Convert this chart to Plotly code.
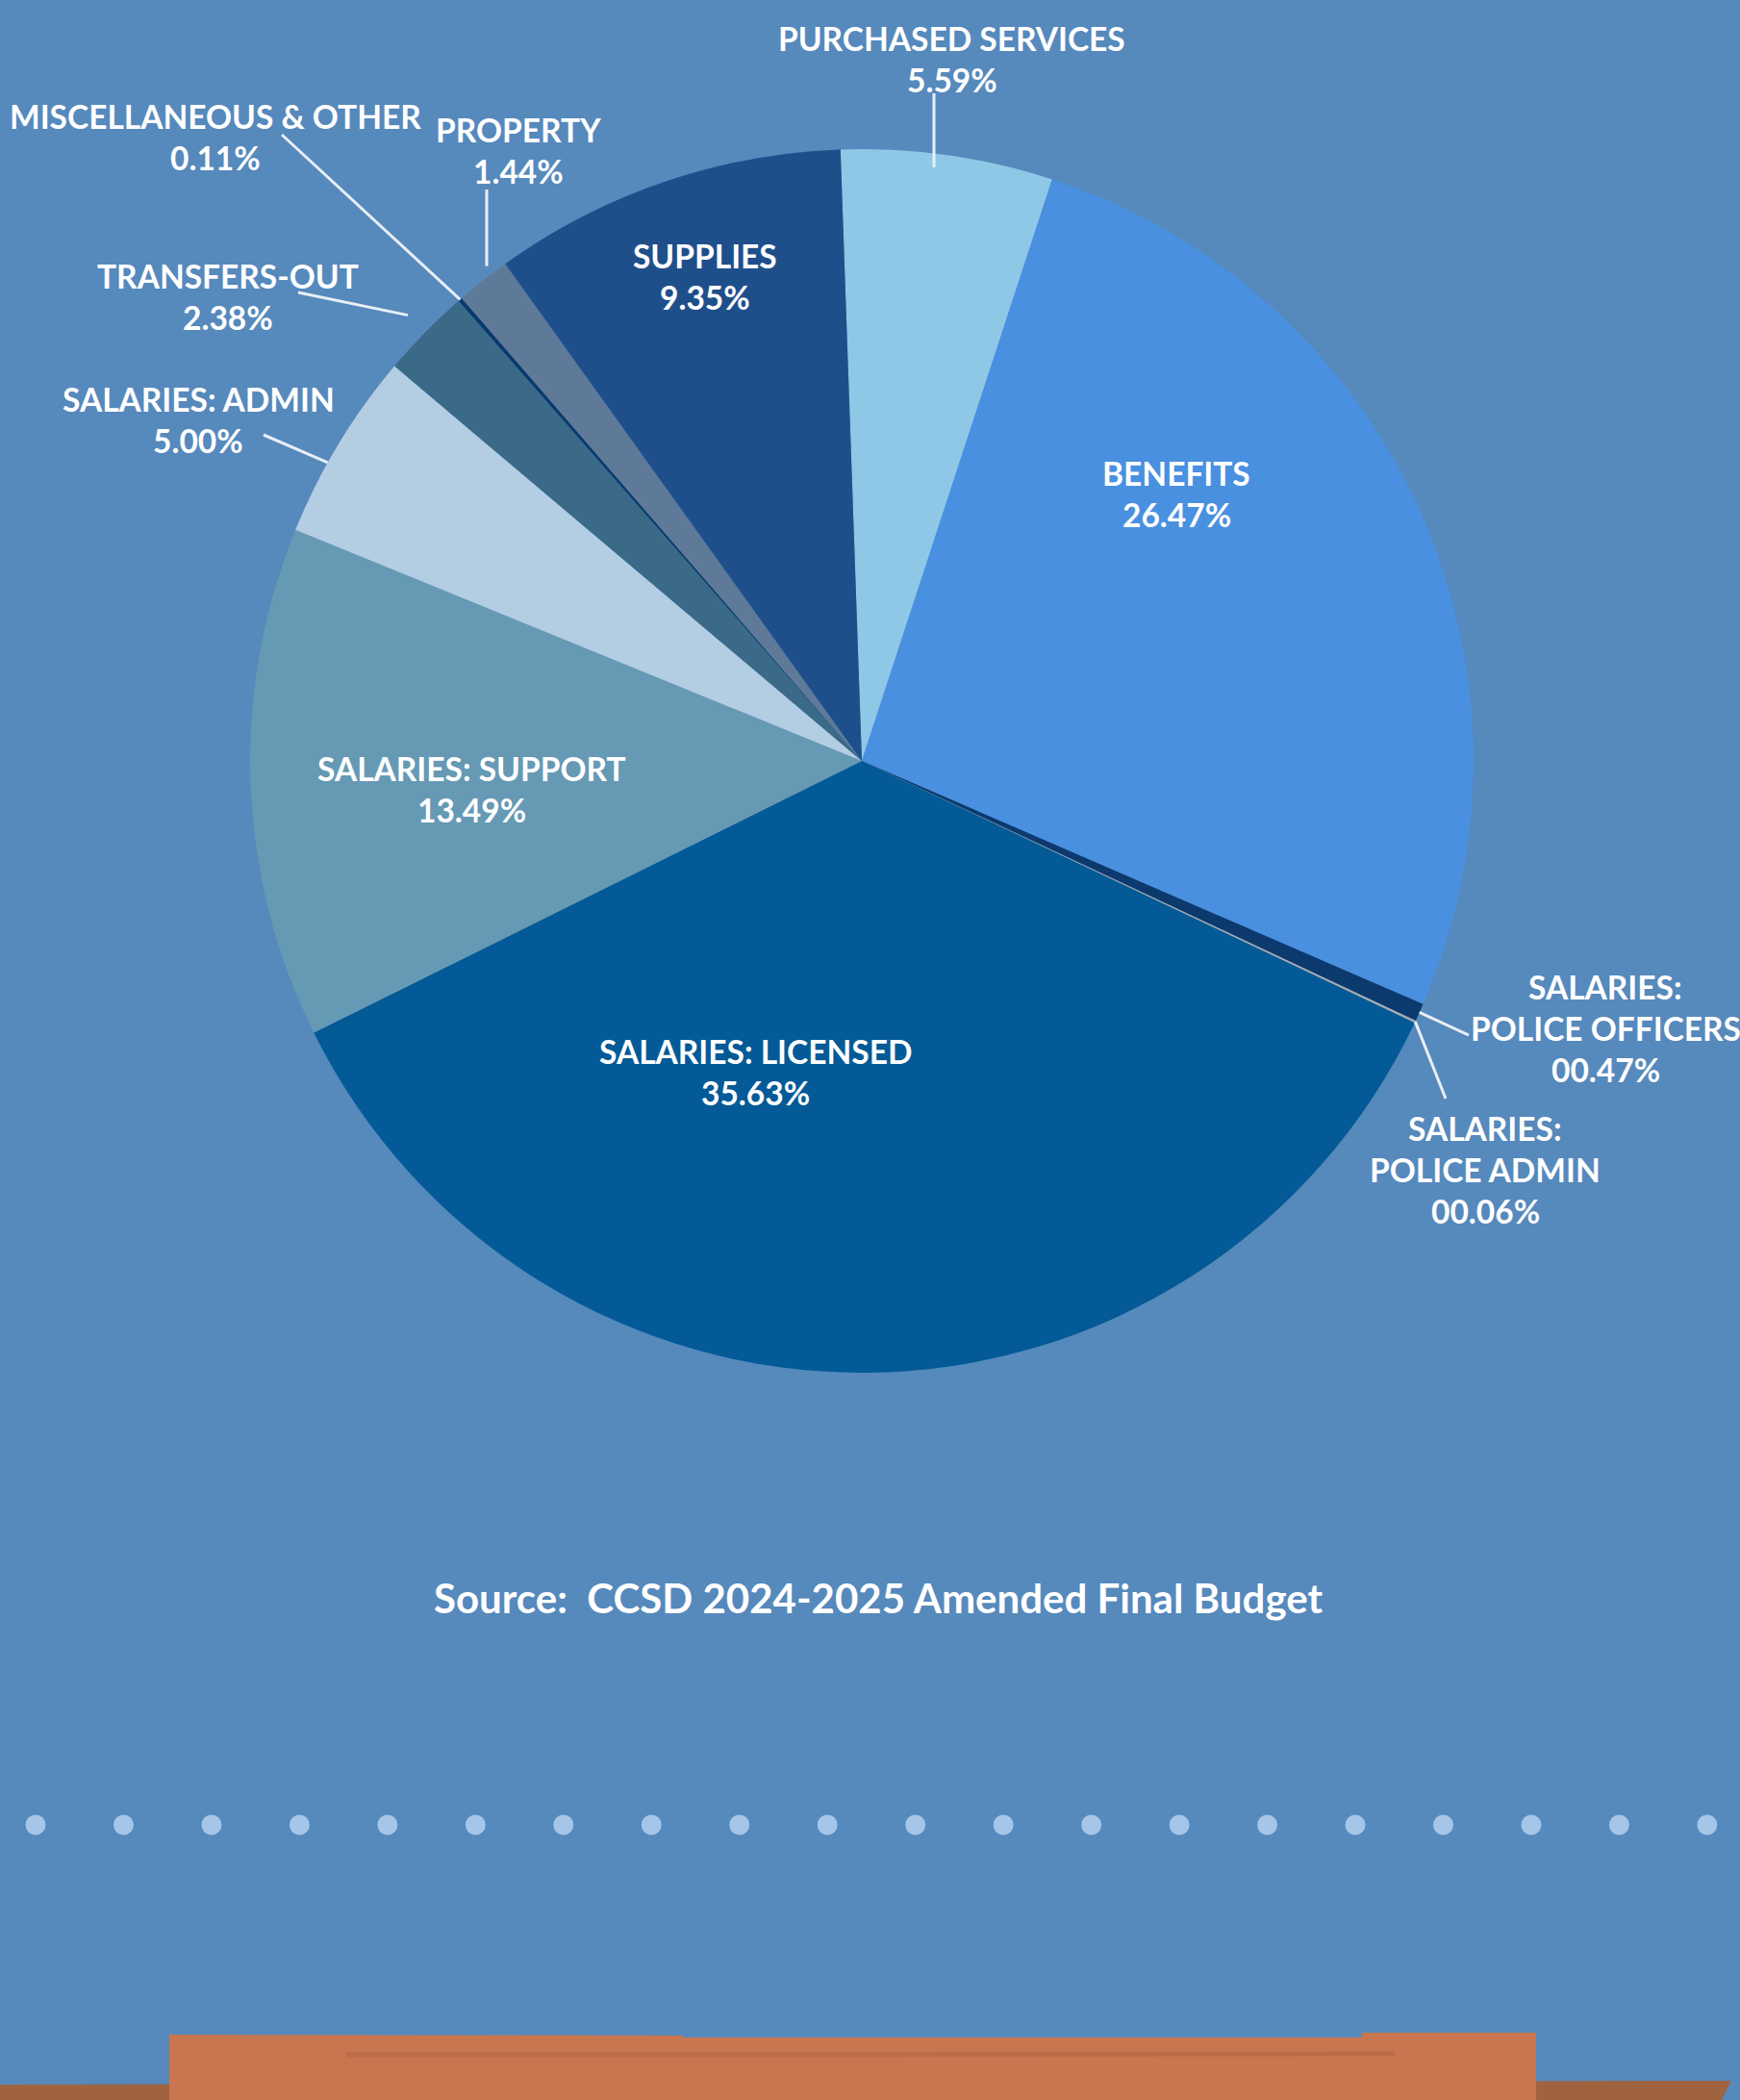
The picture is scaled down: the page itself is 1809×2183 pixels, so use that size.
import math
import plotly.graph_objects as go

# ---------------- data ----------------
categories = [
    "PURCHASED SERVICES", "BENEFITS", "SALARIES: POLICE OFFICERS",
    "SALARIES: POLICE ADMIN", "SALARIES: LICENSED", "SALARIES: SUPPORT",
    "SALARIES: ADMIN", "TRANSFERS-OUT", "MISCELLANEOUS & OTHER",
    "PROPERTY", "SUPPLIES",
]
values = [5.59, 26.47, 0.47, 0.06, 35.63, 13.49, 5.00, 2.38, 0.11, 1.44, 9.35]
value_labels = ["5.59%", "26.47%", "00.47%", "00.06%", "35.63%", "13.49%",
                "5.00%", "2.38%", "0.11%", "1.44%", "9.35%"]
slice_colors = ["#8fc8e6", "#4a90e0", "#0c3a6e", "#a9abae", "#035a96",
                "#6699b4", "#b3cde3", "#3b6a89", "#0a3a6c", "#5f7a98", "#1f4f8b"]
dot_index = list(range(20))
source_text = "Source:  CCSD 2024-2025 Amended Final Budget"

# ---------------- geometry ----------------
W, H = 1809, 2183
CX, CY, R = 896, 791, 636
ROT = -2
BG = "#5689bc"


def px(x):
    return x / W


def py(y):
    return 1 - y / H


fig = go.Figure()
fig.add_trace(go.Pie(
    labels=categories, values=values, sort=False, direction="clockwise",
    rotation=ROT, marker=dict(colors=slice_colors, line=dict(width=0)),
    textinfo="none", hoverinfo="label+percent", showlegend=False,
    domain=dict(x=[px(CX - R), px(CX + R)], y=[py(CY + R), py(CY - R)]),
))

# decorative dot row
fig.add_trace(go.Scatter(
    x=dot_index, y=[0.131] * len(dot_index), mode="markers",
    marker=dict(size=21, color="#a5c6e8", line=dict(width=0)),
    hoverinfo="skip", showlegend=False,
))

# ---------------- labels ----------------
FONT = dict(family="Lato", size=33.5, color="white", weight="bold")
label_lines = {
    0: (["PURCHASED SERVICES"], (990, 40)),
    1: (["BENEFITS"], (1223, 492)),
    2: (["SALARIES:", "POLICE OFFICERS"], (1669, 1026)),
    3: (["SALARIES:", "POLICE ADMIN"], (1544, 1173)),
    4: (["SALARIES: LICENSED"], (785, 1093)),
    5: (["SALARIES: SUPPORT"], (490, 799)),
    6: (["SALARIES: ADMIN"], (206, 415)),
    7: (["TRANSFERS-OUT"], (237, 287)),
    8: (["MISCELLANEOUS & OTHER"], (224, 121)),
    9: (["PROPERTY"], (539, 135)),
    10: (["SUPPLIES"], (733, 266)),
}
LINE_GAP = 43
annotations = []
for i, (lines, (lx, ly)) in label_lines.items():
    all_lines = lines + [value_labels[i]]
    for k, t in enumerate(all_lines):
        annotations.append(dict(
            x=px(lx), y=py(ly + k * LINE_GAP), xref="paper", yref="paper",
            text=t, showarrow=False, font=FONT, xanchor="center", yanchor="middle",
        ))

annotations.append(dict(
    x=px(913), y=py(1661), xref="paper", yref="paper", text=source_text,
    showarrow=False, xanchor="center", yanchor="middle",
    font=dict(family="Lato", size=42, color="white", weight="bold"),
))

# ---------------- leader lines (inner end from slice mid-angle) ----------------
total = sum(values)
cum = [sum(values[:i]) for i in range(len(values))]


def rim_point(i, f, da=0.0):
    a = math.radians(ROT + da + 360 * (cum[i] + values[i] / 2) / total)
    return CX + R * f * math.sin(a), CY - R * f * math.cos(a)


leaders = {  # index: (outer end in px, radial factor, angle tweak)
    0: ((971, 97), 0.98, 0),
    2: ((1527, 1076), 1.0, 0),
    3: ((1503, 1142), 1.0, 0),
    6: ((274, 452), 1.0, -2.0),
    7: ((310, 304), 1.04, 0),
    8: ((293, 140), 1.0, 0),
    9: ((506, 197), 1.03, 0),
}
shapes = []
for i, ((ox, oy), f, da) in leaders.items():
    ix, iy = rim_point(i, f, da)
    if i in (0, 9):
        ix = ox
    shapes.append(dict(type="line", xref="paper", yref="paper",
                       x0=px(ix), y0=py(iy), x1=px(ox), y1=py(oy),
                       line=dict(color="#e8eef6", width=3)))

# ---------------- bottom decoration ----------------
shapes.append(dict(type="path", xref="paper", yref="paper",
                   path=f"M 0 {py(2167)} L {px(1800)} {py(2163)} L {px(1790)} 0 L 0 0 Z",
                   fillcolor="#a0633f", line=dict(width=0), layer="below"))
shapes.append(dict(type="path", xref="paper", yref="paper",
                   path=(f"M {px(176)} 0 L {px(176)} {py(2115)} L {px(710)} {py(2116)} "
                         f"L {px(710)} {py(2118)} L {px(1416)} {py(2118)} L {px(1416)} {py(2113)} "
                         f"L {px(1597)} {py(2113)} L {px(1597)} 0 Z"),
                   fillcolor="#c8764f", line=dict(width=0), layer="below"))
shapes.append(dict(type="line", xref="paper", yref="paper",
                   x0=px(360), y0=py(2136), x1=px(1450), y1=py(2135),
                   line=dict(color="#ad6443", width=5), opacity=0.45))

fig.update_layout(
    width=W, height=H, margin=dict(l=0, r=0, t=0, b=0),
    paper_bgcolor=BG, plot_bgcolor="rgba(0,0,0,0)",
    xaxis=dict(visible=False, range=[-0.4045, 19.373], domain=[0, 1], fixedrange=True),
    yaxis=dict(visible=False, range=[0, 1], domain=[0, 1], fixedrange=True),
    annotations=annotations, shapes=shapes,
)

fig.write_html(
    "out.html",
    config={"displayModeBar": False},
    post_script="document.body.style.margin='0';document.body.style.padding='0';"
                "document.body.style.overflow='hidden';"
                "document.body.style.background='" + BG + "';",
)
